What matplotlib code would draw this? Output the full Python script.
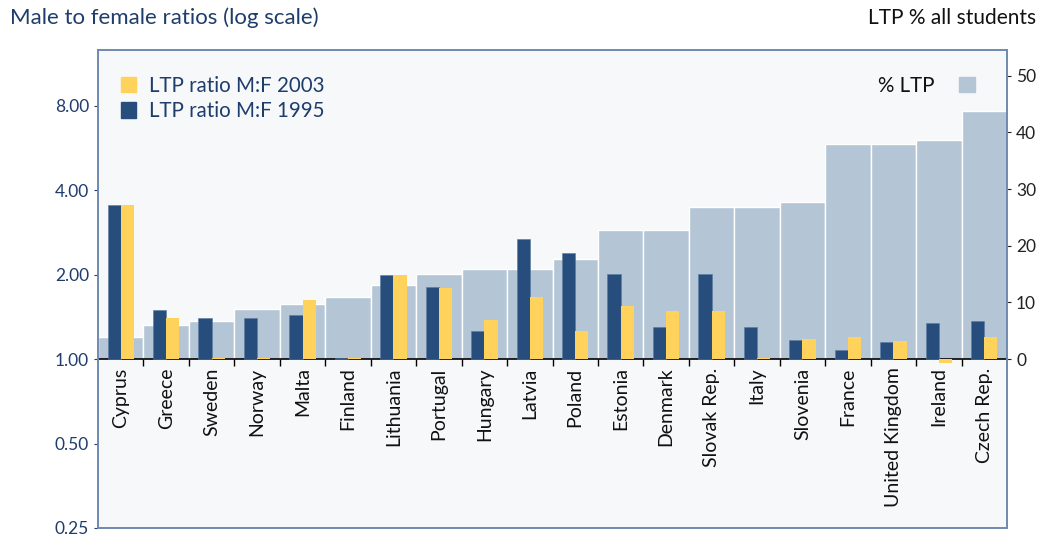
import matplotlib
matplotlib.use("Agg")
import matplotlib.pyplot as plt
from matplotlib.patches import Patch
from matplotlib.ticker import FixedLocator, NullFormatter
import numpy as np

plt.rcParams["font.family"] = ["Lato", "DejaVu Sans"]

# countries, sorted by share of LTP students
countries = ["Cyprus", "Greece", "Sweden", "Norway", "Malta", "Finland", "Lithuania",
             "Portugal", "Hungary", "Latvia", "Poland", "Estonia", "Denmark",
             "Slovak Rep.", "Italy", "Slovenia", "France", "United Kingdom",
             "Ireland", "Czech Rep."]
# % of all students in LTP (right axis)
pct_ltp = [3.9, 6.0, 6.8, 8.8, 9.7, 10.9, 13.0, 15.0, 15.9, 15.9,
           17.7, 22.7, 22.7, 26.8, 26.8, 27.7, 37.9, 37.9, 38.7, 43.7]
# male:female ratios (left, log axis)
ratio_1995 = [3.55, 1.50, 1.40, 1.40, 1.44, 1.01, 2.00, 1.81, 1.26, 2.68,
              2.39, 2.01, 1.30, 2.01, 1.30, 1.17, 1.08, 1.15, 1.35, 1.37]
ratio_2003 = [3.55, 1.40, 1.01, 1.01, 1.62, 1.01, 2.00, 1.79, 1.38, 1.66,
              1.26, 1.55, 1.49, 1.49, 1.01, 1.18, 1.20, 1.165, 0.97, 1.20]
left_ticks = [0.25, 0.5, 1, 2, 4, 8]
left_labels = ["0.25", "0.50", "1.00", "2.00", "4.00", "8.00"]
right_ticks = [0, 10, 20, 30, 40, 50]

DARK = "#264D7C"
YELLOW = "#FFD25B"
LIGHT = "#B4C5D6"
BG = "#F7F8FA"
FRAME = "#6F8AAE"
NAVY = "#1F3D6B"

x = np.arange(len(countries))
log_lo, log_hi = 0.25, 12.65
k = 14.9  # right-axis units per doubling
lin_lo, lin_hi = k * np.log2(log_lo), k * np.log2(log_hi)

fig = plt.figure(figsize=(10.42, 5.36), dpi=100)
ax = fig.add_axes([98 / 1042, 8 / 536, 909 / 1042, 478 / 536])
ax.set_facecolor(BG)

# % LTP bars, linear scale (right ticks)
ax.bar(x, pct_ltp, width=1.0, color=LIGHT, edgecolor="white", linewidth=1.0, zorder=1)
ax.set_xlim(-0.5, len(countries) - 0.5)
ax.set_ylim(lin_lo, lin_hi)

# baseline at ratio 1.0 = 0 % with boundary ticks and country labels
for s in ["left", "right", "top"]:
    ax.spines[s].set_visible(False)
ax.spines["bottom"].set_position(("data", 0))
ax.spines["bottom"].set_color("black")
ax.spines["bottom"].set_linewidth(1.2)
ax.spines["bottom"].set_zorder(3)
ax.xaxis.set_major_locator(FixedLocator(x[:-1] + 0.5))
ax.xaxis.set_major_formatter(NullFormatter())
ax.xaxis.set_minor_locator(FixedLocator(x))
ax.set_xticklabels(countries, minor=True, rotation=90, fontsize=14, color="#111111")
ax.tick_params(axis="x", which="major", length=5, width=1, color="black")
ax.tick_params(axis="x", which="minor", length=0, pad=6)

# ratio bars, log scale (left ticks)
ax2 = ax.twinx()
ax2.set_yscale("log", base=2)
ax2.set_ylim(log_lo, log_hi)
w = 0.29
ax2.bar(x - w / 2, np.array(ratio_1995) - 1, bottom=1, width=w, color=DARK,
        edgecolor="#5A7AA0", linewidth=0.4, zorder=2)
ax2.bar(x + w / 2, np.array(ratio_2003) - 1, bottom=1, width=w, color=YELLOW, zorder=2)

# twinx puts the original ticks left; swap sides
ax.yaxis.tick_right()
ax.set_yticks(right_ticks)
ax.tick_params(axis="y", labelsize=12.5, length=3, width=0.8, color="#222222",
               labelcolor="#222222")
ax2.yaxis.tick_left()
ax2.yaxis.set_major_locator(FixedLocator(left_ticks))
ax2.yaxis.set_minor_locator(FixedLocator([]))
ax2.set_yticklabels(left_labels)
ax2.tick_params(axis="y", labelsize=12.5, labelcolor=NAVY, color=NAVY, length=3, width=0.8)
ax2.tick_params(axis="x", which="both", length=0)
for s in ax2.spines.values():
    s.set_color(FRAME)
    s.set_linewidth(1.4)

leg1 = ax2.legend(handles=[Patch(color=YELLOW, label="LTP ratio M:F 2003"),
                           Patch(color=DARK, label="LTP ratio M:F 1995")],
                  loc="upper left", bbox_to_anchor=(0.005, 0.985), frameon=False,
                  fontsize=14.8, handlelength=0.75, handleheight=0.8,
                  handletextpad=0.6, labelspacing=0.25, labelcolor=NAVY)
ax2.add_artist(leg1)
ax2.legend(handles=[Patch(color=LIGHT, label="% LTP")], loc="upper right",
           bbox_to_anchor=(0.985, 0.985), frameon=False, fontsize=14.8,
           markerfirst=False, handlelength=0.75, handleheight=0.8,
           handletextpad=1.2, labelcolor="#111111")

fig.text(10 / 1042, 1 - 18 / 536, "Male to female ratios (log scale)", fontsize=16,
         color=NAVY, va="center", ha="left")
fig.text(1036 / 1042, 1 - 18 / 536, "LTP % all students", fontsize=15,
         color="#111111", va="center", ha="right")

fig.savefig("out.png", dpi=100, facecolor="white")
plt.close(fig)
